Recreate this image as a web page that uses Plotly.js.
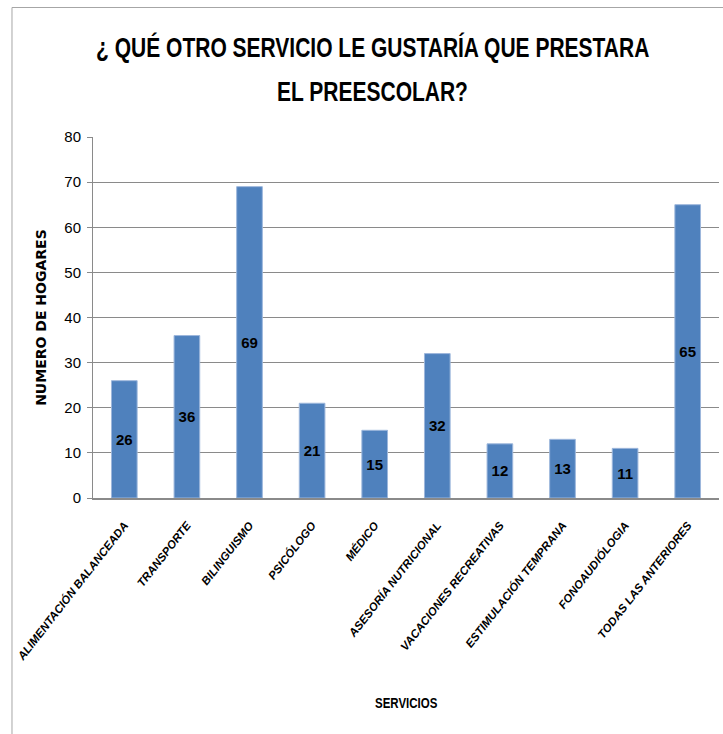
<!DOCTYPE html>
<html>
<head>
<meta charset="utf-8">
<script src="https://cdn.plot.ly/plotly-3.0.1.min.js"></script>
<style>
  html, body { margin: 0; padding: 0; background: #ffffff; }
  #chart { width: 723px; height: 734px; }
</style>
</head>
<body>
<div id="chart"></div>
<script>
const titleLine1 = "¿ QUÉ OTRO SERVICIO LE GUSTARÍA QUE PRESTARA";
const titleLine2 = "EL PREESCOLAR?";
const xAxisTitle = "SERVICIOS";
const yAxisTitle = "NUMERO DE HOGARES";

const categories = [
  "ALIMENTACIÓN BALANCEADA",
  "TRANSPORTE",
  "BILINGUISMO",
  "PSICÓLOGO",
  "MÉDICO",
  "ASESORÍA NUTRICIONAL",
  "VACACIONES RECREATIVAS",
  "ESTIMULACIÓN TEMPRANA",
  "FONOAUDIÓLOGIA",
  "TODAS LAS ANTERIORES"
];
const values = [26, 36, 69, 21, 15, 32, 12, 13, 11, 65];

const yTickValues = [0, 10, 20, 30, 40, 50, 60, 70, 80];

const sans = "Liberation Sans, Arial, sans-serif";
const gray = "#8a8a8a";

const trace = {
  type: "bar",
  x: categories,
  y: values,
  marker: { color: "#4f81bd", line: { color: "#9db7dc", width: 1 } },
  text: values.map(String),
  textposition: "inside",
  insidetextanchor: "middle",
  textangle: 0,
  constraintext: "none",
  textfont: { family: sans, size: 15, color: "#000000", weight: "bold" },
  hoverinfo: "skip"
};

const layout = {
  width: 723,
  height: 734,
  margin: { l: 93, r: 4, t: 137, b: 236 },
  paper_bgcolor: "#ffffff",
  plot_bgcolor: "#ffffff",
  showlegend: false,
  bargap: 0.59,
  xaxis: {
    type: "category",
    tickangle: -52,
    tickfont: { family: sans, size: 11.5, color: "#000000", weight: "bold", style: "italic" },
    ticks: "",
    ticklabelstandoff: 14,
    showline: true,
    linecolor: gray,
    linewidth: 2,
    showgrid: false,
    zeroline: false
  },
  yaxis: {
    range: [0, 80],
    tickvals: yTickValues,
    ticktext: yTickValues.map(String),
    tickfont: { family: sans, size: 15, color: "#000000" },
    ticks: "outside",
    ticklen: 5,
    tickcolor: gray,
    showline: true,
    linecolor: gray,
    linewidth: 1,
    showgrid: true,
    gridcolor: gray,
    gridwidth: 1,
    zeroline: false,
    ticklabelstandoff: 3
  },
  shapes: [
    {
      type: "rect",
      xref: "paper", yref: "paper",
      x0: -0.1294, x1: 1.2, y0: -1.2, y1: 1.3587,
      line: { color: "#a6a6a6", width: 1 },
      fillcolor: "rgba(0,0,0,0)",
      layer: "below"
    }
  ],
  annotations: [
    {
      text: titleLine1,
      xref: "paper", yref: "paper",
      x: 0.446, y: 1.249,
      xanchor: "center", yanchor: "middle",
      showarrow: false,
      font: { family: sans, size: 21, color: "#000000", weight: "bold" }
    },
    {
      text: titleLine2,
      xref: "paper", yref: "paper",
      x: 0.446, y: 1.127,
      xanchor: "center", yanchor: "middle",
      showarrow: false,
      font: { family: sans, size: 21, color: "#000000", weight: "bold" }
    },
    {
      text: xAxisTitle,
      xref: "paper", yref: "paper",
      x: 0.5, y: -0.568,
      xanchor: "center", yanchor: "middle",
      showarrow: false,
      font: { family: sans, size: 11.5, color: "#000000", weight: "bold" }
    },
    {
      text: yAxisTitle,
      xref: "paper", yref: "paper",
      x: -0.0841, y: 0.5,
      xanchor: "center", yanchor: "middle",
      textangle: -90,
      showarrow: false,
      font: { family: "DejaVu Sans, Verdana, sans-serif", size: 14, color: "#000000", weight: "bold" }
    }
  ]
};

Plotly.newPlot("chart", [trace], layout, { staticPlot: true, displayModeBar: false }).then(function (gd) {
  // The reference text is tall and condensed: stretch the horizontal title texts vertically.
  const stretch = [titleLine1, titleLine2, xAxisTitle];
  gd.querySelectorAll(".annotation-text").forEach(function (el) {
    if (stretch.indexOf(el.textContent) !== -1) {
      el.style.transformBox = "fill-box";
      el.style.transformOrigin = "center";
      el.style.transform = "scaleY(1.3)";
    }
  });
});
</script>
</body>
</html>
